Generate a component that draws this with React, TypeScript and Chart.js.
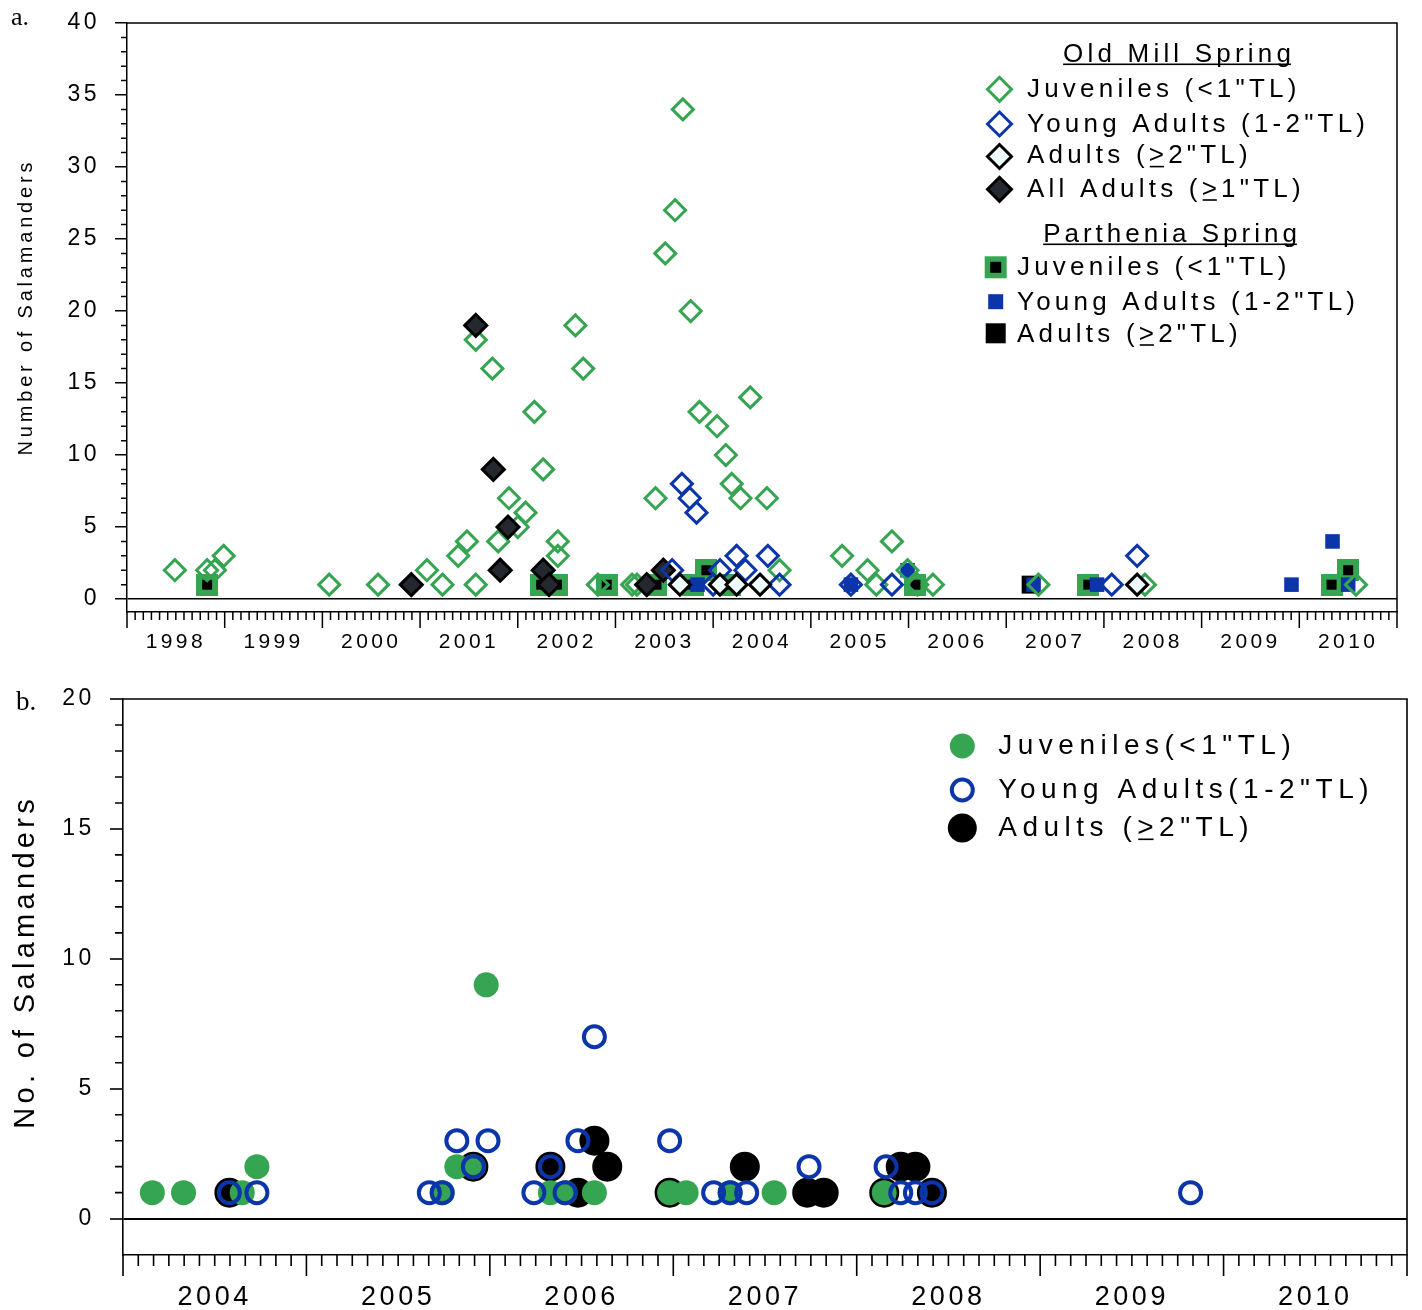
import React, { useEffect, useRef } from 'react';
import { Chart, registerables } from 'chart.js';

Chart.register(...registerables);

const SANS = '"Liberation Sans", Arial, Helvetica, sans-serif';
const SERIF = '"Liberation Serif", "Times New Roman", serif';
const GREEN = '#35a551';
const BLUE = '#0b35a8';
const BLACK = '#000000';
const DARK_FILL = '#25282e';
const PALE_FILL = '#eefbfb';

// ---------------- Panel a (Old Mill Spring & Parthenia Spring, 1998-2010) ----------------
const yearsA = [1998, 1999, 2000, 2001, 2002, 2003, 2004, 2005, 2006, 2007, 2008, 2009, 2010];
const yTicksA = [0, 5, 10, 15, 20, 25, 30, 35, 40];

const omJuvX = [1998.49, 1998.82, 1998.90, 1998.99, 2000.07, 2000.57, 2001.07, 2001.23, 2001.39, 2001.48, 2001.57, 2001.57, 2001.74, 2001.80, 2001.91, 2002.00, 2002.08, 2002.17, 2002.26, 2002.41, 2002.41, 2002.59, 2002.67, 2002.82, 2003.17, 2003.22, 2003.41, 2003.51, 2003.61, 2003.69, 2003.77, 2003.86, 2004.04, 2004.13, 2004.19, 2004.28, 2004.38, 2004.55, 2004.68, 2005.32, 2005.58, 2005.67, 2005.83, 2005.99, 2006.09, 2006.25, 2007.33, 2008.42, 2010.58];
const omJuvY = [2, 2, 2, 3, 1, 1, 2, 1, 3, 4, 1, 18, 16, 4, 7, 5, 6, 13, 9, 4, 3, 19, 16, 1, 1, 1, 7, 24, 27, 34, 20, 13, 12, 10, 8, 7, 14, 7, 2, 3, 2, 1, 4, 2, 1, 1, 1, 1, 1];

const omYAX = [2003.58, 2003.68, 2003.76, 2003.83, 2004.00, 2004.07, 2004.24, 2004.33, 2004.56, 2004.68, 2005.41, 2005.83, 2008.08, 2008.34];
const omYAY = [2, 8, 7, 6, 1, 2, 3, 2, 3, 1, 1, 1, 1, 3];

const omAdX = [2003.66, 2004.07, 2004.24, 2004.48, 2008.34];
const omAdY = [1, 1, 1, 1, 1];

const allAdX = [2000.91, 2001.57, 2001.75, 2001.82, 2001.90, 2002.26, 2002.32, 2003.32, 2003.49];
const allAdY = [1, 19, 9, 2, 5, 2, 1, 1, 2];

const pJuvX = [1998.82, 2002.24, 2002.40, 2002.91, 2003.42, 2003.79, 2003.93, 2004.17, 2006.07, 2007.84, 2010.33, 2010.50];
const pJuvY = [1, 1, 1, 1, 1, 1, 2, 1, 1, 1, 1, 2];

const pYAX = [2003.84, 2005.41, 2005.99, 2007.28, 2007.93, 2009.92, 2010.34, 2010.50];
const pYAY = [1, 1, 2, 1, 1, 1, 4, 1];

const pAdX = [2007.25];
const pAdY = [1];

// ---------------- Panel b (2004-2010) ----------------
const yearsB = [2004, 2005, 2006, 2007, 2008, 2009, 2010];
const yTicksB = [0, 5, 10, 15, 20];

const bJuvX = [2004.16, 2004.33, 2004.65, 2004.73, 2005.74, 2005.82, 2005.91, 2005.98, 2006.33, 2006.41, 2006.57, 2006.98, 2007.07, 2007.31, 2007.55, 2008.15];
const bJuvY = [1, 1, 1, 2, 1, 2, 2, 9, 1, 1, 1, 1, 1, 1, 1, 1];

const bYAX = [2004.58, 2004.73, 2005.67, 2005.74, 2005.82, 2005.91, 2005.99, 2006.24, 2006.33, 2006.41, 2006.48, 2006.57, 2006.98, 2007.22, 2007.31, 2007.40, 2007.74, 2008.16, 2008.24, 2008.32, 2008.41, 2009.82];
const bYAY = [1, 1, 1, 1, 3, 2, 3, 1, 2, 1, 3, 7, 3, 1, 1, 1, 2, 2, 1, 1, 1, 1];

const bAdX = [2004.58, 2005.91, 2006.33, 2006.48, 2006.57, 2006.64, 2006.98, 2007.39, 2007.73, 2007.82, 2008.15, 2008.24, 2008.32, 2008.41];
const bAdY = [1, 2, 2, 1, 3, 2, 1, 2, 1, 1, 1, 2, 2, 1];

function pts(xs: number[], ys: number[]) {
  return xs.map((x, i) => ({ x, y: ys[i] }));
}

function makeJuvSquare(size: number, inner: number) {
  const c = document.createElement('canvas');
  c.width = size;
  c.height = size;
  const g = c.getContext('2d')!;
  g.fillStyle = GREEN;
  g.fillRect(0, 0, size, size);
  g.fillStyle = BLACK;
  const o = (size - inner) / 2;
  g.fillRect(o, o, inner, inner);
  return c;
}

function spacingPlugin(px: number) {
  return {
    id: 'spacing',
    beforeUpdate(chart: any) { chart.ctx.letterSpacing = px + 'px'; },
    beforeDraw(chart: any) { chart.ctx.letterSpacing = px + 'px'; },
  };
}

function frameTicksPlugin(o: { minorY: number; majorX: number; minorX: number; lw: number }) {
  return {
    id: 'frameTicks',
    afterDraw(chart: any) {
      const { ctx, chartArea: ca } = chart;
      const xs = chart.scales.x;
      const ys = chart.scales.y;
      ctx.save();
      ctx.letterSpacing = '0px';
      ctx.strokeStyle = '#000';
      ctx.lineWidth = o.lw;
      ctx.beginPath();
      ctx.moveTo(ca.left, ca.top);
      ctx.lineTo(ca.right, ca.top);
      ctx.lineTo(ca.right, ca.bottom);
      ctx.stroke();
      ctx.beginPath();
      for (let v = 0; v <= ys.max; v++) {
        if (v % 5 === 0) continue;
        const p = ys.getPixelForValue(v);
        ctx.moveTo(ca.left - o.minorY, p);
        ctx.lineTo(ca.left, p);
      }
      for (let yr = xs.min; yr <= xs.max; yr++) {
        for (let m = 0; m < 12; m++) {
          const v = yr + m / 12;
          if (v > xs.max + 1e-6) break;
          const p = xs.getPixelForValue(v);
          const len = m === 0 ? o.majorX : o.minorX;
          ctx.moveTo(p, ca.bottom);
          ctx.lineTo(p, ca.bottom + len);
        }
      }
      ctx.stroke();
      ctx.restore();
    },
  };
}

function drawParts(ctx: CanvasRenderingContext2D, x: number, y: number, parts: Array<[string, boolean]>, L: number) {
  let cx = x;
  for (const [t, u] of parts) {
    const w = ctx.measureText(t).width;
    ctx.fillText(t, cx, y);
    if (u) ctx.fillRect(cx + 1, y + 2.5, w - L - 1, 1.6);
    cx += w;
  }
}

function heading(ctx: CanvasRenderingContext2D, t: string, cx: number, y: number, L: number) {
  ctx.letterSpacing = L + 'px';
  const w = ctx.measureText(t).width - L;
  const x0 = cx - w / 2;
  ctx.fillText(t, x0, y);
  ctx.fillRect(x0, y + 2, w, 1.6);
}

function diamond(ctx: CanvasRenderingContext2D, x: number, y: number, r: number, fill: string | null, stroke: string, lw: number) {
  ctx.beginPath();
  ctx.moveTo(x - r, y);
  ctx.lineTo(x, y - r);
  ctx.lineTo(x + r, y);
  ctx.lineTo(x, y + r);
  ctx.closePath();
  if (fill) { ctx.fillStyle = fill; ctx.fill(); }
  ctx.lineWidth = lw;
  ctx.strokeStyle = stroke;
  ctx.stroke();
}

function rotTitle(ctx: CanvasRenderingContext2D, t: string, x: number, y: number, font: string, L: number) {
  ctx.save();
  ctx.translate(x, y);
  ctx.rotate(-Math.PI / 2);
  ctx.font = font;
  ctx.letterSpacing = L + 'px';
  ctx.textAlign = 'center';
  ctx.textBaseline = 'middle';
  ctx.fillStyle = '#000';
  ctx.fillText(t, L / 2, 0);
  ctx.restore();
}

const legendA = {
  id: 'legendA',
  afterDraw(chart: any) {
    const ctx: CanvasRenderingContext2D = chart.ctx;
    ctx.save();
    ctx.fillStyle = '#000';
    ctx.textAlign = 'left';
    ctx.textBaseline = 'alphabetic';
    ctx.letterSpacing = '0px';
    ctx.font = `26px ${SERIF}`;
    ctx.fillText('a.', 11, 25);
    rotTitle(ctx, 'Number of Salamanders', 26.4, 309, `20px ${SANS}`, 3.8);

    ctx.fillStyle = '#000';
    ctx.font = `26px ${SANS}`;
    heading(ctx, 'Old Mill Spring', 1177, 61.5, 4.2);
    heading(ctx, 'Parthenia Spring', 1170, 241.5, 4.0);

    const L = 4.2;
    ctx.letterSpacing = L + 'px';
    ctx.fillStyle = '#000';
    drawParts(ctx, 1027, 96.7, [['Juveniles (<1"TL)', false]], L);
    drawParts(ctx, 1027, 131.7, [['Young Adults (1-2"TL)', false]], L);
    drawParts(ctx, 1027, 163.3, [['Adults (', false], ['>', true], ['2"TL)', false]], L);
    drawParts(ctx, 1027, 196.7, [['All Adults (', false], ['>', true], ['1"TL)', false]], L);
    drawParts(ctx, 1017, 275, [['Juveniles (<1"TL)', false]], L);
    drawParts(ctx, 1017, 310, [['Young Adults (1-2"TL)', false]], L);
    drawParts(ctx, 1017, 341.7, [['Adults (', false], ['>', true], ['2"TL)', false]], L);

    diamond(ctx, 999.5, 89.3, 12, null, GREEN, 3);
    diamond(ctx, 999.5, 124, 12, null, BLUE, 3);
    diamond(ctx, 999.5, 156.5, 12, PALE_FILL, BLACK, 3);
    diamond(ctx, 999.5, 189.3, 12, DARK_FILL, BLACK, 3);
    ctx.fillStyle = GREEN;
    ctx.fillRect(995.7 - 11, 267.3 - 11, 22, 22);
    ctx.fillStyle = BLACK;
    ctx.fillRect(995.7 - 5.5, 267.3 - 5.5, 11, 11);
    ctx.fillStyle = BLUE;
    ctx.fillRect(995.7 - 7.5, 301.7 - 7.5, 15, 15);
    ctx.fillStyle = BLACK;
    ctx.fillRect(995.7 - 10, 333.3 - 10, 20, 20);
    ctx.restore();
  },
};

const legendB = {
  id: 'legendB',
  afterDraw(chart: any) {
    const ctx: CanvasRenderingContext2D = chart.ctx;
    ctx.save();
    ctx.fillStyle = '#000';
    ctx.textAlign = 'left';
    ctx.textBaseline = 'alphabetic';
    ctx.letterSpacing = '0px';
    ctx.font = `27px ${SERIF}`;
    ctx.fillText('b.', 16, 50);
    rotTitle(ctx, 'No. of Salamanders', 25.5, 304, `29px ${SANS}`, 4.3);

    const L = 5.5;
    ctx.font = `28px ${SANS}`;
    ctx.letterSpacing = L + 'px';
    ctx.fillStyle = '#000';
    drawParts(ctx, 998.3, 94, [['Juveniles(<1"TL)', false]], L);
    drawParts(ctx, 998.3, 138, [['Young Adults(1-2"TL)', false]], L);
    drawParts(ctx, 998.3, 176, [['Adults (', false], ['>', true], ['2"TL)', false]], L);

    ctx.fillStyle = GREEN;
    ctx.beginPath(); ctx.arc(962.3, 86, 12.5, 0, Math.PI * 2); ctx.fill();
    ctx.strokeStyle = BLUE; ctx.lineWidth = 4;
    ctx.beginPath(); ctx.arc(962.3, 130, 10.5, 0, Math.PI * 2); ctx.stroke();
    ctx.fillStyle = BLACK;
    ctx.beginPath(); ctx.arc(962.3, 168, 14.5, 0, Math.PI * 2); ctx.fill();
    ctx.restore();
  },
};

function configA(juvImg: HTMLCanvasElement): any {
  const open = 'rgba(255,255,255,0)';
  return {
    type: 'scatter',
    data: {
      datasets: [
        { label: 'Old Mill Adults', data: pts(omAdX, omAdY), pointStyle: 'rectRot', pointRadius: 10.5, pointBorderWidth: 3, pointBorderColor: BLACK, pointBackgroundColor: PALE_FILL },
        { label: 'Old Mill Young Adults', data: pts(omYAX, omYAY), pointStyle: 'rectRot', pointRadius: 10.5, pointBorderWidth: 3, pointBorderColor: BLUE, pointBackgroundColor: open },
        { label: 'Old Mill All Adults', data: pts(allAdX, allAdY), pointStyle: 'rectRot', pointRadius: 11, pointBorderWidth: 3, pointBorderColor: BLACK, pointBackgroundColor: DARK_FILL },
        { label: 'Old Mill Juveniles', data: pts(omJuvX, omJuvY), pointStyle: 'rectRot', pointRadius: 10.5, pointBorderWidth: 3, pointBorderColor: GREEN, pointBackgroundColor: open },
        { label: 'Parthenia Young Adults', data: pts(pYAX, pYAY), pointStyle: 'rect', pointRadius: 10.3, pointBorderWidth: 0, pointBackgroundColor: BLUE },
        { label: 'Parthenia Adults', data: pts(pAdX, pAdY), pointStyle: 'rect', pointRadius: 12.7, pointBorderWidth: 0, pointBackgroundColor: BLACK },
        { label: 'Parthenia Juveniles', data: pts(pJuvX, pJuvY), pointStyle: juvImg, pointRadius: 11, pointBorderWidth: 0 },
      ],
    },
    options: {
      animation: false,
      responsive: false,
      events: [],
      layout: { padding: { left: 0, right: 25, top: 23, bottom: 0 } },
      plugins: { legend: { display: false }, tooltip: { enabled: false }, title: { display: false } },
      scales: {
        x: {
          type: 'linear',
          min: 1998,
          max: 2011,
          afterBuildTicks: (s: any) => { s.ticks = yearsA.map((y) => ({ value: y + 0.5 })); },
          afterFit: (s: any) => { s.height = 48; s.paddingLeft = 0; s.paddingRight = 0; },
          ticks: { callback: (v: any) => String(Math.floor(Number(v))), font: { family: SANS, size: 21 }, color: '#000', padding: 2, autoSkip: false, maxRotation: 0, minRotation: 0 },
          grid: { display: true, drawOnChartArea: false, drawTicks: true, tickLength: 16, tickColor: 'rgba(0,0,0,0)' },
          border: { display: true, color: '#000', width: 1.5 },
        },
        y: {
          type: 'linear',
          min: -0.9,
          max: 40,
          afterBuildTicks: (s: any) => { s.ticks = yTicksA.map((v) => ({ value: v })); },
          afterFit: (s: any) => { s.width = 127; s.paddingTop = 0; s.paddingBottom = 0; },
          ticks: { callback: (v: any) => String(v), font: { family: SANS, size: 23 }, color: '#000', padding: 15 },
          grid: {
            display: true,
            drawOnChartArea: true,
            drawTicks: true,
            tickLength: 12,
            tickColor: '#000',
            tickWidth: 1.5,
            lineWidth: 1.5,
            color: (c: any) => (c.tick && c.tick.value === 0 ? '#000' : 'rgba(0,0,0,0)'),
          },
          border: { display: true, color: '#000', width: 1.5 },
        },
      },
    },
    plugins: [spacingPlugin(3.4), frameTicksPlugin({ minorY: 6, majorX: 16, minorX: 8, lw: 1.5 }), legendA],
  };
}

function configB(): any {
  return {
    type: 'scatter',
    data: {
      datasets: [
        { label: 'Young Adults', data: pts(bYAX, bYAY), pointStyle: 'circle', pointRadius: 10.5, pointBorderWidth: 4, pointBorderColor: BLUE, pointBackgroundColor: 'rgba(255,255,255,0)' },
        { label: 'Juveniles', data: pts(bJuvX, bJuvY), pointStyle: 'circle', pointRadius: 12.5, pointBorderWidth: 0, pointBackgroundColor: GREEN },
        { label: 'Adults', data: pts(bAdX, bAdY), pointStyle: 'circle', pointRadius: 15, pointBorderWidth: 0, pointBackgroundColor: BLACK },
      ],
    },
    options: {
      animation: false,
      responsive: false,
      events: [],
      layout: { padding: { left: 0, right: 5, top: 39, bottom: 0 } },
      plugins: { legend: { display: false }, tooltip: { enabled: false }, title: { display: false } },
      scales: {
        x: {
          type: 'linear',
          min: 2004,
          max: 2011,
          afterBuildTicks: (s: any) => { s.ticks = yearsB.map((y) => ({ value: y + 0.5 })); },
          afterFit: (s: any) => { s.height = 55; s.paddingLeft = 0; s.paddingRight = 0; },
          ticks: { callback: (v: any) => String(Math.floor(Number(v))), font: { family: SANS, size: 27 }, color: '#000', padding: 5, autoSkip: false, maxRotation: 0, minRotation: 0 },
          grid: { display: true, drawOnChartArea: false, drawTicks: true, tickLength: 21, tickColor: 'rgba(0,0,0,0)' },
          border: { display: true, color: '#000', width: 1.6 },
        },
        y: {
          type: 'linear',
          min: -1.4,
          max: 20,
          afterBuildTicks: (s: any) => { s.ticks = yTicksB.map((v) => ({ value: v })); },
          afterFit: (s: any) => { s.width = 123; s.paddingTop = 0; s.paddingBottom = 0; },
          ticks: { callback: (v: any) => String(v), font: { family: SANS, size: 23 }, color: '#000', padding: 15 },
          grid: {
            display: true,
            drawOnChartArea: true,
            drawTicks: true,
            tickLength: 13,
            tickColor: '#000',
            tickWidth: 1.6,
            lineWidth: 2,
            color: (c: any) => (c.tick && c.tick.value === 0 ? '#000' : 'rgba(0,0,0,0)'),
          },
          border: { display: true, color: '#000', width: 1.6 },
        },
      },
    },
    plugins: [spacingPlugin(3.6), frameTicksPlugin({ minorY: 8, majorX: 21, minorX: 11, lw: 1.6 }), legendB],
  };
}

export default function App() {
  const refA = useRef<HTMLCanvasElement>(null);
  const refB = useRef<HTMLCanvasElement>(null);
  useEffect(() => {
    const juvImg = makeJuvSquare(22, 10);
    const chartA = new Chart(refA.current as HTMLCanvasElement, configA(juvImg));
    const chartB = new Chart(refB.current as HTMLCanvasElement, configB());
    return () => {
      chartA.destroy();
      chartB.destroy();
    };
  }, []);
  return (
    <div style={{ position: 'absolute', left: 0, top: 0, width: 1422, height: 1310, background: '#fff', overflow: 'hidden' }}>
      <canvas ref={refA} width={1422} height={660} style={{ position: 'absolute', left: 0, top: 0, width: 1422, height: 660 }} />
      <canvas ref={refB} width={1422} height={650} style={{ position: 'absolute', left: 0, top: 660, width: 1422, height: 650 }} />
    </div>
  );
}
